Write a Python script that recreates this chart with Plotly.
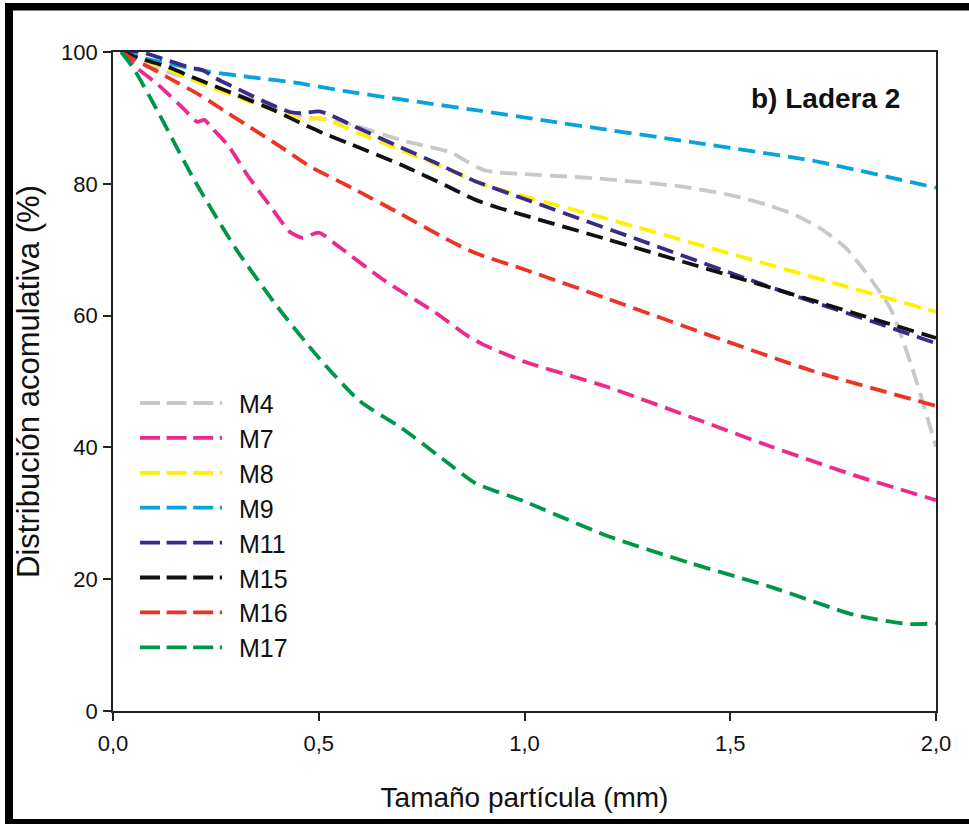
import plotly.graph_objects as go

# Cumulative particle-size distribution, hillslope 2
names = ["M4", "M7", "M8", "M9", "M11", "M15", "M16", "M17"]
colors = ["#C8C8C8", "#EC2A8C", "#FFF000", "#0AA2DC", "#3A2A8A", "#111111", "#EC3326", "#00964A"]

x_m4 = [0.02, 0.04, 0.1, 0.2, 0.3, 0.4, 0.48, 0.54, 0.66, 0.714, 0.77, 0.82, 0.86, 0.9, 0.94,
        1.02, 1.18, 1.38, 1.5, 1.6, 1.66, 1.72, 1.78, 1.83, 1.89, 1.94, 2.0]
y_m4 = [100, 99.1, 97.6, 95.7, 93.6, 91.4, 90.0, 89.7, 87.4, 86.4, 85.6, 84.8, 83.4, 82.1, 81.7,
        81.4, 80.8, 79.6, 78.3, 76.6, 75.2, 73.2, 70.3, 66.5, 61.0, 52.5, 40.1]

x_m7 = [0.02, 0.06, 0.11, 0.17, 0.205, 0.222, 0.24, 0.28, 0.33, 0.38, 0.43, 0.46, 0.5, 0.55,
        0.66, 0.78, 0.86, 0.9, 1.0, 1.2, 1.4, 1.6, 1.8, 2.0]
y_m7 = [100, 97.5, 95.0, 91.5, 89.4, 89.7, 88.5, 85.8, 81.0, 76.8, 72.7, 71.8, 72.6, 70.4,
        65.3, 60.6, 57.0, 55.6, 53.0, 49.2, 44.7, 40.1, 35.8, 32.0]

x_m8 = [0.02, 0.1, 0.2, 0.3, 0.4, 0.46, 0.5, 0.53, 0.6, 0.7, 0.8, 0.9, 1.2, 1.5, 1.8, 2.0]
y_m8 = [100, 98.2, 95.6, 93.2, 91.0, 89.7, 90.0, 89.5, 87.6, 85.1, 82.6, 79.9, 74.7, 69.4,
        64.1, 60.6]

x_m9 = [0.02, 0.1, 0.236, 0.333, 0.447, 0.56, 0.7, 0.89, 1.06, 1.43, 1.7, 2.0]
y_m9 = [100, 98.7, 97.0, 96.2, 95.3, 94.1, 92.8, 91.1, 89.5, 86.1, 83.5, 79.4]

x_m11 = [0.02, 0.066, 0.13, 0.19, 0.216, 0.25, 0.32, 0.37, 0.43, 0.46, 0.5, 0.53, 0.57, 0.7,
         0.78, 0.88, 1.0, 1.3, 1.54, 1.7, 1.86, 2.0]
y_m11 = [100, 100, 98.8, 97.6, 97.3, 96.0, 93.9, 92.4, 90.9, 90.7, 91.0, 90.4, 89.2, 85.5,
         83.3, 80.4, 77.7, 71.0, 65.6, 62.1, 58.8, 55.8]

x_m15 = [0.02, 0.06, 0.13, 0.2, 0.26, 0.32, 0.39, 0.45, 0.51, 0.57, 0.7, 0.81, 0.88, 0.94,
         1.0, 1.2, 1.4, 1.6, 1.8, 2.0]
y_m15 = [100, 99.1, 97.8, 96.0, 94.5, 93.0, 91.2, 89.4, 87.7, 86.2, 82.9, 79.7, 77.6, 76.3,
         75.2, 71.6, 67.9, 64.2, 60.4, 56.6]

x_m16 = [0.02, 0.05, 0.1, 0.155, 0.21, 0.26, 0.33, 0.4, 0.48, 0.58, 0.7, 0.82, 0.88, 1.0,
         1.2, 1.45, 1.7, 2.0]
y_m16 = [100, 98.9, 97.3, 95.4, 93.5, 91.5, 88.7, 85.9, 82.6, 79.4, 75.4, 71.3, 69.5, 67.0,
         62.6, 57.0, 51.6, 46.3]

x_m17 = [0.02, 0.05, 0.1, 0.2, 0.3, 0.4, 0.5, 0.6, 0.7, 0.8, 0.88, 1.0, 1.2, 1.4, 1.6, 1.8,
         1.93, 2.0]
y_m17 = [100, 97.5, 92.0, 80.3, 70.0, 61.3, 53.6, 47.0, 43.0, 38.3, 34.6, 31.8, 26.6, 22.5,
         18.8, 14.6, 13.2, 13.3]

series_x = [x_m4, x_m7, x_m8, x_m9, x_m11, x_m15, x_m16, x_m17]
series_y = [y_m4, y_m7, y_m8, y_m9, y_m11, y_m15, y_m16, y_m17]

x_ticks = [0.0, 0.5, 1.0, 1.5, 2.0]
y_ticks = [0, 20, 40, 60, 80, 100]

panel_label = "b) Ladera 2"
x_title = "Tamaño partícula (mm)"
y_title = "Distribución acomulativa (%)"

# Page geometry (pixels)
W, H = 969, 824
ML, MR, MT, MB = 113, 33, 52, 113
PW, PH = W - ML - MR, H - MT - MB


def px(xp):
    return (xp - ML) / PW


def py(yp):
    return (H - MB - yp) / PH


FONT = "Liberation Sans, Arial, sans-serif"
INK = "#111111"

fig = go.Figure()
for name, color, xs, ys in zip(names, colors, series_x, series_y):
    fig.add_trace(go.Scatter(
        x=xs, y=ys, name=name, mode="lines",
        line=dict(color=color, width=3.8, dash="17px,8px", shape="spline", smoothing=0.6),
        showlegend=False,
    ))

shapes = []
annotations = []

# Key: dashed sample line and label per series
key_top, key_step = 403, 34.9
for i, (name, color) in enumerate(zip(names, colors)):
    yk = key_top + i * key_step
    shapes.append(dict(type="line", xref="paper", yref="paper",
                       x0=px(140), x1=px(222), y0=py(yk), y1=py(yk),
                       line=dict(color=color, width=3.8, dash="20px,6.6px")))
    annotations.append(dict(text=name, xref="paper", yref="paper", x=px(237), y=py(yk + 1),
                            xanchor="left", yanchor="middle", showarrow=False,
                            font=dict(family=FONT, size=25, color=INK)))

annotations.append(dict(text="<b>" + panel_label + "</b>", xref="paper", yref="paper",
                        x=px(825), y=py(98), xanchor="center", yanchor="middle",
                        showarrow=False,
                        font=dict(family=FONT, size=28, color=INK)))

# Thick black frame around the figure
frame = "#000000"
shapes.append(dict(type="rect", xref="paper", yref="paper", layer="above",
                   x0=px(5), x1=px(W + 10), y0=py(3), y1=py(10.5),
                   fillcolor=frame, line=dict(width=0)))
shapes.append(dict(type="rect", xref="paper", yref="paper", layer="above",
                   x0=px(5), x1=px(13), y0=py(3), y1=py(H + 10),
                   fillcolor=frame, line=dict(width=0)))
shapes.append(dict(type="rect", xref="paper", yref="paper", layer="above",
                   x0=px(5), x1=px(W + 10), y0=py(819), y1=py(H + 10),
                   fillcolor=frame, line=dict(width=0)))

axis_common = dict(
    showgrid=False, zeroline=False, showline=True, linecolor="#222222", linewidth=1.6,
    mirror=True, ticks="outside", ticklen=8, tickwidth=1.5, tickcolor="#222222",
    tickfont=dict(family=FONT, size=22, color=INK),
)

fig.update_layout(
    width=W, height=H, autosize=False,
    margin=dict(l=ML, r=MR, t=MT, b=MB),
    paper_bgcolor="white", plot_bgcolor="white",
    separators=",.",
    shapes=shapes, annotations=annotations,
    xaxis=dict(range=[0, 2.0], tickvals=x_ticks, tickformat=".1f", ticklabelstandoff=4,
               title=dict(text=x_title, font=dict(family=FONT, size=28, color=INK),
                          standoff=32),
               **axis_common),
    yaxis=dict(range=[0, 100], tickvals=y_ticks, ticklabelstandoff=1,
               title=dict(text=y_title, font=dict(family=FONT, size=31, color=INK),
                          standoff=12),
               **axis_common),
)

fig.write_html("out.html")
